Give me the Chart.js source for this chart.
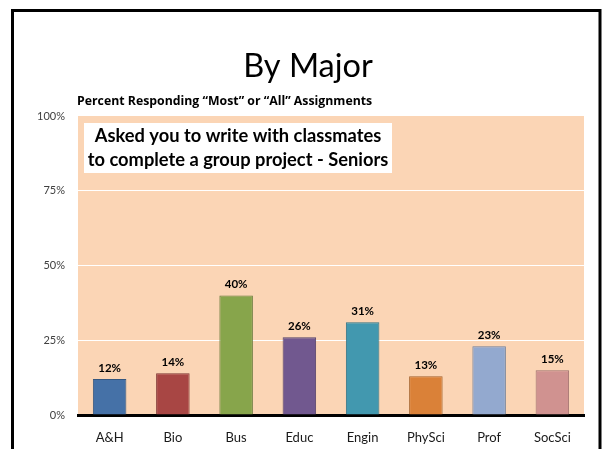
<!DOCTYPE html>
<html>
<head>
<meta charset="utf-8">
<script src="https://cdn.jsdelivr.net/npm/chart.js@4/dist/chart.umd.min.js"></script>
<style>
  html, body { margin: 0; padding: 0; background: #fff; }
  #majorChart { display: block; }
</style>
</head>
<body>
<canvas id="majorChart" width="602" height="449"></canvas>
<script>
const categories = ['A&H', 'Bio', 'Bus', 'Educ', 'Engin', 'PhySci', 'Prof', 'SocSci']
const values = [12, 14, 40, 26, 31, 13, 23, 15]
const barColors = ['#4571A7', '#A84644', '#87A54B', '#71588F', '#4298AF', '#DA8138', '#93A9CF', '#D09290']
const barBorders = ['#35577F', '#7F3432', '#66793A', '#524069', '#317283', '#A4612B', '#6E7F9C', '#9C6E6C']
const yTicks = [0, 25, 50, 75, 100]

const chartTitle = 'By Major'
const chartSubtitle = 'Percent Responding \u201cMost\u201d or \u201cAll\u201d Assignments'
const boxLines = ['Asked you to write with classmates', 'to complete a group project - Seniors']

// peach plot background behind the grid
const plotBackground = {
    id: 'plotBackground',
    beforeDraw(chart) {
        const { ctx, chartArea } = chart
        ctx.save()
        ctx.fillStyle = '#FBD5B5'
        ctx.fillRect(chartArea.left, chartArea.top, chartArea.right - chartArea.left, chartArea.bottom - chartArea.top)
        ctx.restore()
    }
}

// percent labels above each bar
const barLabels = {
    id: 'barLabels',
    afterDatasetsDraw(chart) {
        const ctx = chart.ctx
        const meta = chart.getDatasetMeta(0)
        ctx.save()
        ctx.font = 'bold 11.5px Lato'
        ctx.fillStyle = '#000'
        ctx.textAlign = 'center'
        ctx.textBaseline = 'middle'
        meta.data.forEach((bar, i) => {
            ctx.fillText(values[i] + '%', bar.x, bar.y - 11)
        })
        ctx.restore()
    }
}

// slide frame, title, subtitle and the white caption box
const slideDecor = {
    id: 'slideDecor',
    afterDraw(chart) {
        const ctx = chart.ctx
        ctx.save()

        ctx.strokeStyle = '#000'
        ctx.lineWidth = 3
        ctx.beginPath()
        ctx.moveTo(12.5, 449)
        ctx.lineTo(12.5, 10.5)
        ctx.lineTo(600, 10.5)
        ctx.lineTo(600, 449)
        ctx.stroke()

        ctx.fillStyle = '#000'
        ctx.textAlign = 'center'
        ctx.textBaseline = 'alphabetic'
        ctx.font = '32.5px Lato'
        ctx.fillText(chartTitle, 308, 77)

        ctx.textAlign = 'left'
        ctx.font = 'bold 12.3px "Open Sans"'
        ctx.fillText(chartSubtitle, 77, 105)

        ctx.fillStyle = '#fff'
        ctx.fillRect(84, 123, 308, 50)
        ctx.fillStyle = '#000'
        ctx.textAlign = 'center'
        ctx.font = 'bold 18.3px Lato'
        ctx.fillText(boxLines[0], 238, 142)
        ctx.fillText(boxLines[1], 238, 166)

        ctx.restore()
    }
}

new Chart(document.getElementById('majorChart'), {
    type: 'bar',
    data: {
        labels: categories,
        datasets: [{
            data: values,
            backgroundColor: barColors,
            borderColor: barBorders,
            borderWidth: 1,
            borderSkipped: 'bottom',
            barPercentage: 0.53,
            categoryPercentage: 1
        }]
    },
    options: {
        responsive: false,
        animation: false,
        layout: {
            padding: { top: 116, right: 18, left: 0, bottom: 0 }
        },
        plugins: {
            legend: { display: false },
            tooltip: { enabled: false }
        },
        scales: {
            x: {
                afterFit(scale) { scale.height = 34 },
                grid: { display: false, drawTicks: false },
                border: { display: true, color: '#000', width: 3 },
                ticks: {
                    padding: 15,
                    color: '#1a1a1a',
                    font: { family: 'Lato', size: 13 }
                }
            },
            y: {
                min: 0,
                max: 100,
                afterFit(scale) { scale.width = 78 },
                afterBuildTicks(scale) {
                    scale.ticks = yTicks.map(v => ({ value: v }))
                },
                grid: {
                    drawTicks: false,
                    lineWidth: 1,
                    color: ctx => (ctx.tick && (ctx.tick.value === 0 || ctx.tick.value === 100)) ? 'rgba(0,0,0,0)' : '#fff'
                },
                border: { display: false },
                ticks: {
                    padding: 13,
                    color: '#404040',
                    font: { family: 'Lato', size: 11 },
                    callback: v => v + '%'
                }
            }
        }
    },
    plugins: [plotBackground, barLabels, slideDecor]
})
</script>
</body>
</html>
